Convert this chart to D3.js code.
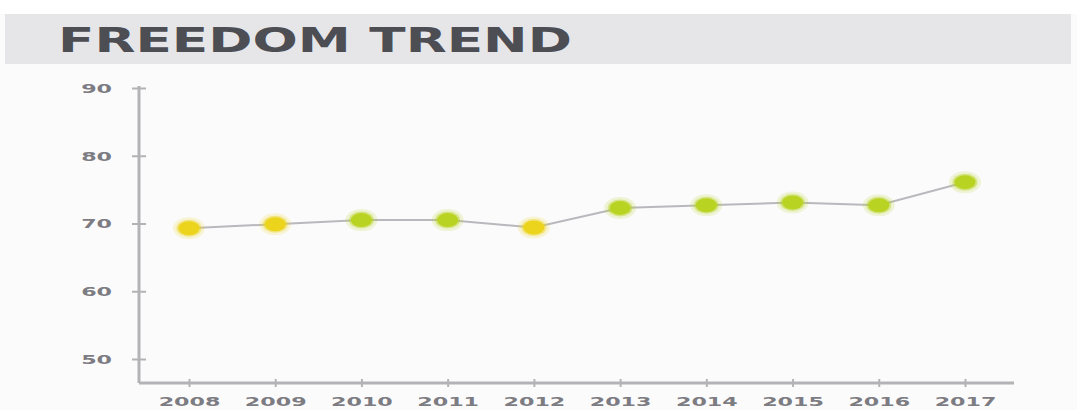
<!DOCTYPE html>
<html>
<head>
<meta charset="utf-8">
<script src="https://cdn.jsdelivr.net/npm/d3@7"></script>
<style>
  html, body { margin: 0; padding: 0; background: #fbfbfc; }
  svg { display: block; }
</style>
</head>
<body>
<div id="chart"></div>
<script>
// --- data ---
const years = ["2008", "2009", "2010", "2011", "2012", "2013", "2014", "2015", "2016", "2017"];
const scores = [69.3, 69.9, 70.5, 70.5, 69.4, 72.3, 72.7, 73.1, 72.7, 76.1];
const yTicks = [50, 60, 70, 80, 90];
const title = "FREEDOM TREND";

const width = 1077, height = 410;
const stretch = 1.85; // the original is squashed wide, text too

const svg = d3.select("#chart").append("svg")
  .attr("width", width)
  .attr("height", height);

// background + title band
svg.append("rect").attr("width", width).attr("height", height).attr("fill", "#fbfbfc");
svg.append("rect").attr("width", width).attr("height", 14).attr("fill", "#ffffff");
svg.append("rect")
  .attr("x", 5).attr("y", 14)
  .attr("width", 1066).attr("height", 50)
  .attr("fill", "#e6e6e8");

const t = svg.append("text")
  .attr("x", 0).attr("y", 0)
  .attr("font-family", "'DejaVu Sans', sans-serif")
  .attr("font-weight", "bold")
  .attr("font-size", 33)
  .attr("fill", "#4d4d54")
  .text(title);
const tw = t.node().getComputedTextLength();
t.attr("transform", `translate(58,52) scale(${514 / tw},1)`);

// scales
const x = d3.scalePoint().domain(years).range([189, 965]);
const y = d3.scaleLinear().domain([50, 90]).range([359, 88]);
const color = d3.scaleThreshold().domain([70]).range(["#ecd41c", "#b8d321"]);

const axisX0 = 139, axisY0 = 383;
const axisColor = "#b3b3b6";
const labelColor = "#7c7c82";

// y axis
const yAxis = svg.append("g")
  .attr("transform", `translate(${axisX0},0)`)
  .call(d3.axisLeft(y).tickValues(yTicks).tickSize(7).tickPadding(0));
yAxis.select(".domain").remove();
yAxis.selectAll(".tick line").attr("x1", -7).attr("x2", 7)
  .attr("stroke", axisColor).attr("stroke-width", 2);
yAxis.selectAll(".tick text")
  .attr("x", -27 / stretch)
  .attr("dy", "0.36em")
  .attr("transform", `scale(${stretch},1)`)
  .attr("font-family", "'DejaVu Sans', sans-serif")
  .attr("font-size", 12)
  .attr("font-weight", "bold")
  .attr("fill", labelColor);

// x axis
const xAxis = svg.append("g")
  .attr("transform", `translate(0,${axisY0})`)
  .call(d3.axisBottom(x).tickSize(5).tickPadding(0));
xAxis.select(".domain").remove();
xAxis.selectAll(".tick line").attr("y1", -4).attr("y2", 4)
  .attr("stroke", axisColor).attr("stroke-width", 2);
xAxis.selectAll(".tick text")
  .attr("y", 14)
  .attr("dy", "0.71em")
  .attr("transform", `scale(${stretch},1)`)
  .attr("font-family", "'DejaVu Sans', sans-serif")
  .attr("font-size", 12)
  .attr("font-weight", "bold")
  .attr("fill", labelColor);

// axis lines
svg.append("line")
  .attr("x1", axisX0).attr("x2", axisX0)
  .attr("y1", 86).attr("y2", axisY0)
  .attr("stroke", axisColor).attr("stroke-width", 3);
svg.append("line")
  .attr("x1", axisX0).attr("x2", 1014)
  .attr("y1", axisY0).attr("y2", axisY0)
  .attr("stroke", axisColor).attr("stroke-width", 3);

// line
const pts = years.map((yr, i) => ({ year: yr, value: scores[i] }));
svg.append("path")
  .datum(pts)
  .attr("fill", "none")
  .attr("stroke", "#b9b9bd")
  .attr("stroke-width", 2)
  .attr("d", d3.line().x(d => x(d.year)).y(d => y(d.value)));

// dots with soft halo
const dots = svg.selectAll(".dot").data(pts).enter().append("g")
  .attr("class", "dot")
  .attr("transform", d => `translate(${x(d.year)},${y(d.value)})`);
dots.append("ellipse")
  .attr("rx", 16).attr("ry", 11)
  .attr("fill", d => color(d.value))
  .attr("opacity", 0.18);
dots.append("ellipse")
  .attr("rx", 12.5).attr("ry", 8.5)
  .attr("fill", d => color(d.value))
  .attr("opacity", 0.45);
dots.append("ellipse")
  .attr("rx", 10.5).attr("ry", 7)
  .attr("fill", d => color(d.value));
</script>
</body>
</html>
